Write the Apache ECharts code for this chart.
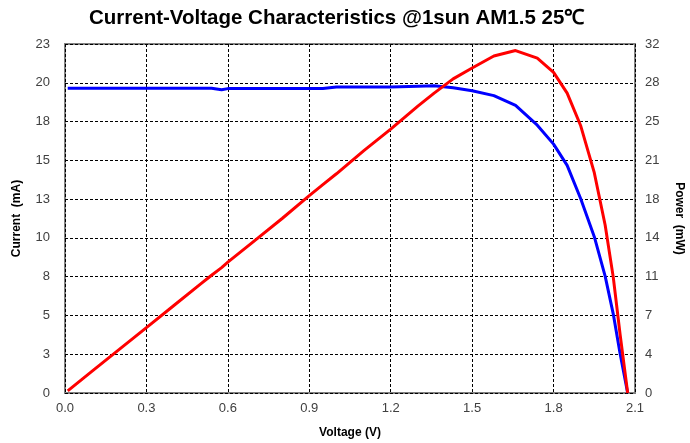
<!DOCTYPE html>
<html>
<head>
<meta charset="utf-8">
<script src="https://cdn.jsdelivr.net/npm/echarts@6/dist/echarts.min.js"></script>
<style>html,body{margin:0;padding:0;background:#fff;}#c{width:690px;height:443px;}</style>
</head>
<body>
<div id="c"></div>
<script>
var voltage = [0.01, 0.1, 0.2, 0.3, 0.4, 0.5, 0.54, 0.577, 0.6, 0.7, 0.8, 0.9, 0.95, 1.0, 1.1, 1.2, 1.3, 1.36, 1.43, 1.5, 1.58, 1.66, 1.74, 1.8, 1.85, 1.9, 1.95, 1.99, 2.02, 2.045, 2.073];
var current = [20.08, 20.08, 20.08, 20.08, 20.08, 20.08, 20.08, 19.99, 20.06, 20.06, 20.07, 20.07, 20.07, 20.16, 20.16, 20.17, 20.22, 20.25, 20.12, 19.92, 19.6, 18.95, 17.65, 16.4, 15.0, 12.8, 10.3, 7.7, 5.2, 2.6, 0];
var power = [0.2, 2.0, 4.0, 6.0, 8.0, 10.0, 10.8, 11.5, 12.0, 14.0, 16.0, 18.1, 19.1, 20.1, 22.2, 24.2, 26.3, 27.5, 28.8, 29.8, 30.9, 31.4, 30.7, 29.4, 27.5, 24.5, 20.2, 15.4, 10.6, 5.4, 0];
var xTicks = {min: 0, max: 2.1, step: 0.3};
var currentAxis = {min: 0, max: 23, divisions: 9};
var powerAxis = {min: 0, max: 32, divisions: 9};

function pairs(xs, ys) { return xs.map(function (x, i) { return [x, ys[i]]; }); }

var font = 'Liberation Sans';
var chart = echarts.init(document.getElementById('c'));
chart.setOption({
  animation: false,
  backgroundColor: '#fff',
  title: {
    text: 'Current-Voltage Characteristics @1sun AM1.5 25\u2103',
    left: 84, top: 3,
    textStyle: {fontFamily: font, fontSize: 20.5, fontWeight: 'bold', color: '#000'}
  },
  grid: {left: 65, right: 55, top: 44, bottom: 50, show: true, borderColor: '#808080', borderWidth: 2, containLabel: false, outerBoundsMode: 'none'},
  xAxis: {
    type: 'value', min: xTicks.min, max: xTicks.max, interval: xTicks.step,
    name: 'Voltage (V)', nameLocation: 'middle', nameGap: 34,
    nameTextStyle: {fontFamily: font, fontSize: 12, fontWeight: 'bold', color: '#000'},
    axisLine: {show: false}, axisTick: {show: false},
    axisLabel: {fontFamily: font, fontSize: 13, color: '#404040', margin: 9, formatter: function (v) { return v.toFixed(1); }},
    splitLine: {show: true, lineStyle: {color: '#000', type: [3, 2], width: 1}}
  },
  yAxis: [{
    type: 'value', min: currentAxis.min, max: currentAxis.max, interval: (currentAxis.max - currentAxis.min) / currentAxis.divisions,
    name: 'Current  (mA)', nameLocation: 'middle', nameGap: 42, nameRotate: 90,
    nameTextStyle: {fontFamily: font, fontSize: 12, fontWeight: 'bold', color: '#000'},
    axisLine: {show: false}, axisTick: {show: false},
    axisLabel: {fontFamily: font, fontSize: 13, color: '#404040', margin: 15, formatter: function (v) { return Math.round(v); }},
    splitLine: {show: true, lineStyle: {color: '#000', type: [3, 2], width: 1}}
  }, {
    type: 'value', min: powerAxis.min, max: powerAxis.max, interval: (powerAxis.max - powerAxis.min) / powerAxis.divisions,
    name: 'Power  (mW)', nameLocation: 'middle', nameGap: 38, nameRotate: -90,
    nameTextStyle: {fontFamily: font, fontSize: 12, fontWeight: 'bold', color: '#000'},
    axisLine: {show: false}, axisTick: {show: false},
    axisLabel: {fontFamily: font, fontSize: 13, color: '#404040', margin: 10, formatter: function (v) { return Math.round(v); }},
    splitLine: {show: false}
  }],
  series: [{
    name: 'Current', type: 'line', yAxisIndex: 0, showSymbol: false, smooth: false,
    lineStyle: {color: '#0000FF', width: 3}, itemStyle: {color: '#0000FF'},
    data: pairs(voltage, current)
  }, {
    name: 'Power', type: 'line', yAxisIndex: 1, showSymbol: false, smooth: false,
    lineStyle: {color: '#FF0000', width: 3}, itemStyle: {color: '#FF0000'},
    data: pairs(voltage, power)
  }]
});
</script>
</body>
</html>
